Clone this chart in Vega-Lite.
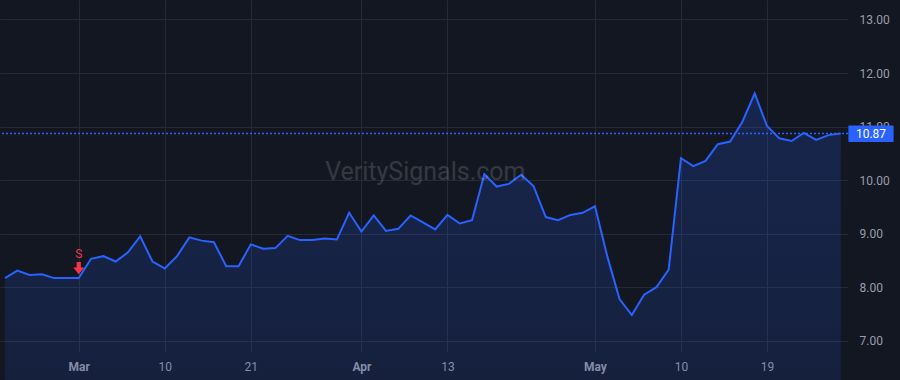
{
  "$schema": "https://vega.github.io/schema/vega-lite/v6.json",
  "width": 848,
  "height": 352,
  "autosize": {"type": "none"},
  "padding": {"left": 0, "top": 0, "right": 52, "bottom": 28},
  "background": "#131722",
  "config": {
    "view": {"stroke": null},
    "font": "Roboto",
    "axis": {"labelFont": "Roboto", "gridColor": "#262a35", "gridWidth": 1, "domain": false, "ticks": false, "title": null}
  },
  "data": {
    "values": [
      {"i": 0, "d": "2023-02-21", "c": 8.17},
      {"i": 1, "d": "2023-02-22", "c": 8.31},
      {"i": 2, "d": "2023-02-23", "c": 8.23},
      {"i": 3, "d": "2023-02-24", "c": 8.24},
      {"i": 4, "d": "2023-02-27", "c": 8.17},
      {"i": 5, "d": "2023-02-28", "c": 8.17},
      {"i": 6, "d": "2023-03-01", "c": 8.17, "sig": "S"},
      {"i": 7, "d": "2023-03-02", "c": 8.53},
      {"i": 8, "d": "2023-03-03", "c": 8.58},
      {"i": 9, "d": "2023-03-06", "c": 8.48},
      {"i": 10, "d": "2023-03-07", "c": 8.65},
      {"i": 11, "d": "2023-03-08", "c": 8.95},
      {"i": 12, "d": "2023-03-09", "c": 8.48},
      {"i": 13, "d": "2023-03-10", "c": 8.35},
      {"i": 14, "d": "2023-03-13", "c": 8.58},
      {"i": 15, "d": "2023-03-14", "c": 8.93},
      {"i": 16, "d": "2023-03-15", "c": 8.87},
      {"i": 17, "d": "2023-03-16", "c": 8.84},
      {"i": 18, "d": "2023-03-17", "c": 8.39},
      {"i": 19, "d": "2023-03-20", "c": 8.39},
      {"i": 20, "d": "2023-03-21", "c": 8.80},
      {"i": 21, "d": "2023-03-22", "c": 8.72},
      {"i": 22, "d": "2023-03-23", "c": 8.73},
      {"i": 23, "d": "2023-03-24", "c": 8.96},
      {"i": 24, "d": "2023-03-27", "c": 8.88},
      {"i": 25, "d": "2023-03-28", "c": 8.88},
      {"i": 26, "d": "2023-03-29", "c": 8.91},
      {"i": 27, "d": "2023-03-30", "c": 8.89},
      {"i": 28, "d": "2023-03-31", "c": 9.39},
      {"i": 29, "d": "2023-04-03", "c": 9.04},
      {"i": 30, "d": "2023-04-04", "c": 9.34},
      {"i": 31, "d": "2023-04-05", "c": 9.05},
      {"i": 32, "d": "2023-04-06", "c": 9.09},
      {"i": 33, "d": "2023-04-10", "c": 9.34},
      {"i": 34, "d": "2023-04-11", "c": 9.21, "wm": "VeritySignals.com"},
      {"i": 35, "d": "2023-04-12", "c": 9.08},
      {"i": 36, "d": "2023-04-13", "c": 9.35},
      {"i": 37, "d": "2023-04-14", "c": 9.19},
      {"i": 38, "d": "2023-04-17", "c": 9.25},
      {"i": 39, "d": "2023-04-18", "c": 10.11},
      {"i": 40, "d": "2023-04-19", "c": 9.88},
      {"i": 41, "d": "2023-04-20", "c": 9.93},
      {"i": 42, "d": "2023-04-21", "c": 10.10},
      {"i": 43, "d": "2023-04-24", "c": 9.89},
      {"i": 44, "d": "2023-04-25", "c": 9.31},
      {"i": 45, "d": "2023-04-26", "c": 9.25},
      {"i": 46, "d": "2023-04-27", "c": 9.35},
      {"i": 47, "d": "2023-04-28", "c": 9.39},
      {"i": 48, "d": "2023-05-01", "c": 9.51},
      {"i": 49, "d": "2023-05-02", "c": 8.58},
      {"i": 50, "d": "2023-05-03", "c": 7.78},
      {"i": 51, "d": "2023-05-04", "c": 7.48},
      {"i": 52, "d": "2023-05-05", "c": 7.86},
      {"i": 53, "d": "2023-05-08", "c": 8.00},
      {"i": 54, "d": "2023-05-09", "c": 8.33},
      {"i": 55, "d": "2023-05-10", "c": 10.41},
      {"i": 56, "d": "2023-05-11", "c": 10.26},
      {"i": 57, "d": "2023-05-12", "c": 10.36},
      {"i": 58, "d": "2023-05-15", "c": 10.67},
      {"i": 59, "d": "2023-05-16", "c": 10.72},
      {"i": 60, "d": "2023-05-17", "c": 11.09},
      {"i": 61, "d": "2023-05-18", "c": 11.62},
      {"i": 62, "d": "2023-05-19", "c": 11.01},
      {"i": 63, "d": "2023-05-22", "c": 10.78},
      {"i": 64, "d": "2023-05-23", "c": 10.73},
      {"i": 65, "d": "2023-05-24", "c": 10.88},
      {"i": 66, "d": "2023-05-25", "c": 10.75},
      {"i": 67, "d": "2023-05-26", "c": 10.84},
      {"i": 68, "d": "2023-05-30", "c": 10.87, "last": true}
    ]
  },
  "encoding": {
    "x": {
      "field": "i",
      "type": "quantitative",
      "scale": {"domain": [-0.407, 68.59], "nice": false, "zero": false},
      "axis": {
        "values": [6, 13, 20, 29, 36, 48, 55, 62],
        "labelExpr": "datum.value==6?'Mar':datum.value==13?'10':datum.value==20?'21':datum.value==29?'Apr':datum.value==36?'13':datum.value==48?'May':datum.value==55?'10':'19'",
        "labelColor": "#8f939c",
        "labelFontSize": 12,
        "labelPadding": 9,
        "labelFontWeight": {"condition": {"test": "datum.value==6||datum.value==29||datum.value==48", "value": "bold"}, "value": "normal"},
        "grid": true
      }
    },
    "y": {
      "field": "c",
      "type": "quantitative",
      "scale": {"domain": [6.79, 13.3635], "nice": false, "zero": false},
      "axis": {
        "orient": "right",
        "values": [7, 8, 9, 10, 11, 12, 13],
        "format": ".2f",
        "labelColor": "#9a9ea7",
        "labelFontSize": 12,
        "labelPadding": 11,
        "grid": true
      }
    }
  },
  "layer": [
    {
      "mark": {
        "type": "area",
        "color": {
          "gradient": "linear",
          "x1": 0, "y1": 0, "x2": 0, "y2": 1,
          "stops": [
            {"offset": 0, "color": "rgba(41,98,255,0.2)"},
            {"offset": 1, "color": "rgba(41,98,255,0.03)"}
          ]
        }
      }
    },
    {
      "mark": {"type": "line", "color": "#2962ff", "strokeWidth": 2, "strokeJoin": "miter"}
    },
    {
      "transform": [{"filter": "datum.last"}],
      "mark": {"type": "rule", "color": "#2962ff", "strokeWidth": 1.6, "strokeDash": [2, 2], "strokeOpacity": 1},
      "encoding": {"x": null}
    },
    {
      "transform": [{"filter": "datum.wm"}],
      "mark": {"type": "text", "fontSize": 25, "color": "#ffffff", "opacity": 0.14, "font": "Roboto"},
      "encoding": {"x": {"datum": 34.2, "type": "quantitative"}, "y": {"datum": 10.15, "type": "quantitative"}, "text": {"field": "wm"}}
    },
    {
      "transform": [{"filter": "datum.sig"}],
      "mark": {"type": "point", "shape": "M-0.35,-1H0.35V-0.1H0.9L0,1L-0.9,-0.1H-0.35Z", "filled": true, "color": "#f23645", "size": 150, "opacity": 1, "yOffset": -10},
      "encoding": {}
    },
    {
      "transform": [{"filter": "datum.sig"}],
      "mark": {"type": "text", "color": "#f23645", "fontSize": 12, "yOffset": -24, "baseline": "middle"},
      "encoding": {"text": {"field": "sig"}}
    },
    {
      "transform": [{"filter": "datum.last"}],
      "mark": {"type": "rect", "color": "#2962ff", "cornerRadius": 1},
      "encoding": {
        "x": {"datum": 68.62, "type": "quantitative"},
        "x2": {"datum": 72.3},
        "y": {"datum": 11.02, "type": "quantitative"},
        "y2": {"datum": 10.71}
      }
    },
    {
      "transform": [{"filter": "datum.last"}],
      "mark": {"type": "text", "color": "#ffffff", "fontSize": 12, "baseline": "middle", "align": "center"},
      "encoding": {
        "x": {"datum": 70.46, "type": "quantitative"},
        "text": {"field": "c", "type": "quantitative", "format": ".2f"}
      }
    }
  ]
}
